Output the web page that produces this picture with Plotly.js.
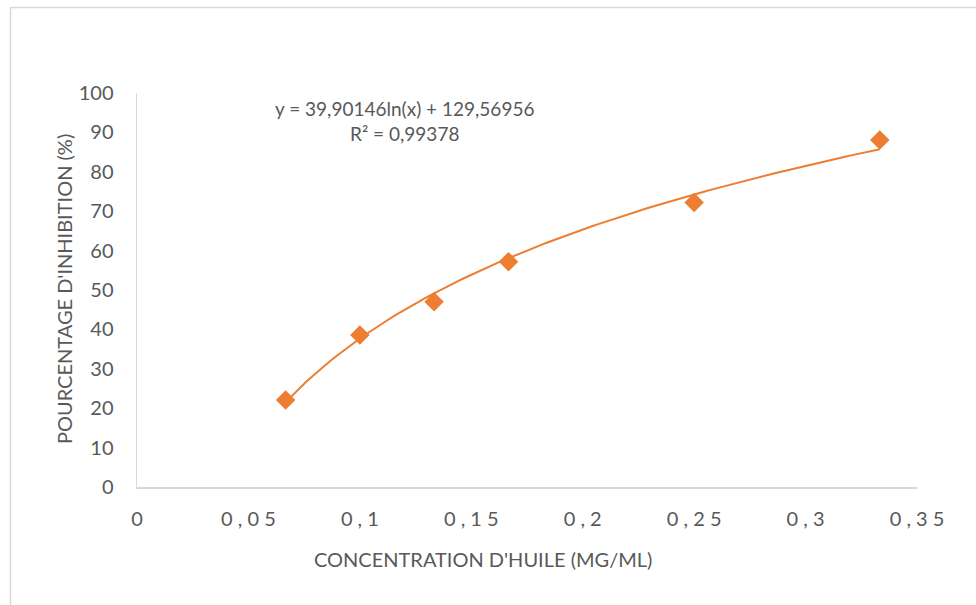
<!DOCTYPE html>
<html>
<head>
<meta charset="utf-8">
<script src="https://cdn.plot.ly/plotly-3.0.1.min.js"></script>
<style>
html,body{margin:0;padding:0;background:#fff;overflow:hidden;}
#chart{width:976px;height:605px;}
</style>
</head>
<body>
<div id="chart"></div>
<script>
// Data
const concentration = [0.0667, 0.1, 0.1333, 0.1667, 0.25, 0.3333];
const inhibition = [22.1, 38.6, 47.0, 57.2, 72.2, 88.1];
// Logarithmic trendline coefficients as displayed: y = a ln(x) + b
const trendCoef = [39.90146, 129.56956];
const xTickVals = [0, 0.05, 0.1, 0.15, 0.2, 0.25, 0.3, 0.35];
const xTickText = ["0", "0 , 0 5", "0 , 1", "0 , 1 5", "0 , 2", "0 , 2 5", "0 , 3", "0 , 3 5"];
const yTickVals = [0, 10, 20, 30, 40, 50, 60, 70, 80, 90, 100];
const equationText = "y = 39,90146ln(x) + 129,56956<br>R² = 0,99378";
const xTitle = "CONCENTRATION D'HUILE (MG/ML)";
const yTitle = "POURCENTAGE D'INHIBITION (%)";

// trendline curve over the span of the data
const xMin = Math.min(...concentration), xMax = Math.max(...concentration);
const trendX = [], trendY = [];
for (let i = 0; i <= 120; i++) {
  const x = xMin + (xMax - xMin) * i / 120;
  trendX.push(x);
  trendY.push(trendCoef[0] * Math.log(x) + trendCoef[1]);
}

const orange = '#ED7D31';
const grey = '#595959';
const font = 'Lato, Open Sans, sans-serif';

const traces = [
  {x: trendX, y: trendY, mode: 'lines', line: {color: orange, width: 2}, hoverinfo: 'skip', showlegend: false},
  {x: concentration, y: inhibition, mode: 'markers', marker: {symbol: 'diamond', size: 15, color: orange}, showlegend: false}
];

const W = 976, H = 605, L = 137, R = 59, T = 93, B = 118;
const pw = W - L - R, ph = H - T - B;
const px = v => (v - L) / pw;
const py = v => (H - B - v) / ph;

const layout = {
  width: W, height: H,
  margin: {l: L, r: R, t: T, b: B},
  paper_bgcolor: '#fff', plot_bgcolor: '#fff',
  showlegend: false,
  font: {family: font, color: grey, size: 20},
  xaxis: {
    range: [0, 0.35], tickvals: xTickVals, ticktext: xTickText,
    showgrid: false, zeroline: false, showline: true, linecolor: '#d9d9d9', linewidth: 1.5,
    ticks: '', ticklabelstandoff: 13,
    tickfont: {family: font, size: 20, color: grey}
  },
  yaxis: {
    range: [0, 100], tickvals: yTickVals,
    showgrid: false, zeroline: false, showline: true, linecolor: '#d9d9d9', linewidth: 1.5,
    ticks: '', ticklabelstandoff: 18,
    tickfont: {family: font, size: 20, color: grey}
  },
  annotations: [
    {
      xref: 'paper', yref: 'paper', x: px(404), y: py(121), xanchor: 'center', yanchor: 'middle',
      text: equationText, showarrow: false, align: 'center',
      font: {family: font, size: 19, color: grey}
    },
    {
      xref: 'paper', yref: 'paper', x: px(483), y: py(559), xanchor: 'center', yanchor: 'middle',
      text: xTitle, showarrow: false, font: {family: font, size: 20, color: grey}
    },
    {
      xref: 'paper', yref: 'paper', x: px(64), y: py(289), xanchor: 'center', yanchor: 'middle',
      text: yTitle, textangle: -90, showarrow: false, font: {family: font, size: 20, color: grey}
    }
  ],
  shapes: [{
    type: 'rect', xref: 'paper', yref: 'paper', layer: 'below',
    x0: px(10.5), x1: px(990), y0: py(620), y1: py(7.5),
    line: {color: '#d9d9d9', width: 1.5}, fillcolor: 'rgba(0,0,0,0)'
  }]
};

Plotly.newPlot('chart', traces, layout, {displayModeBar: false, staticPlot: true});
</script>
</body>
</html>
